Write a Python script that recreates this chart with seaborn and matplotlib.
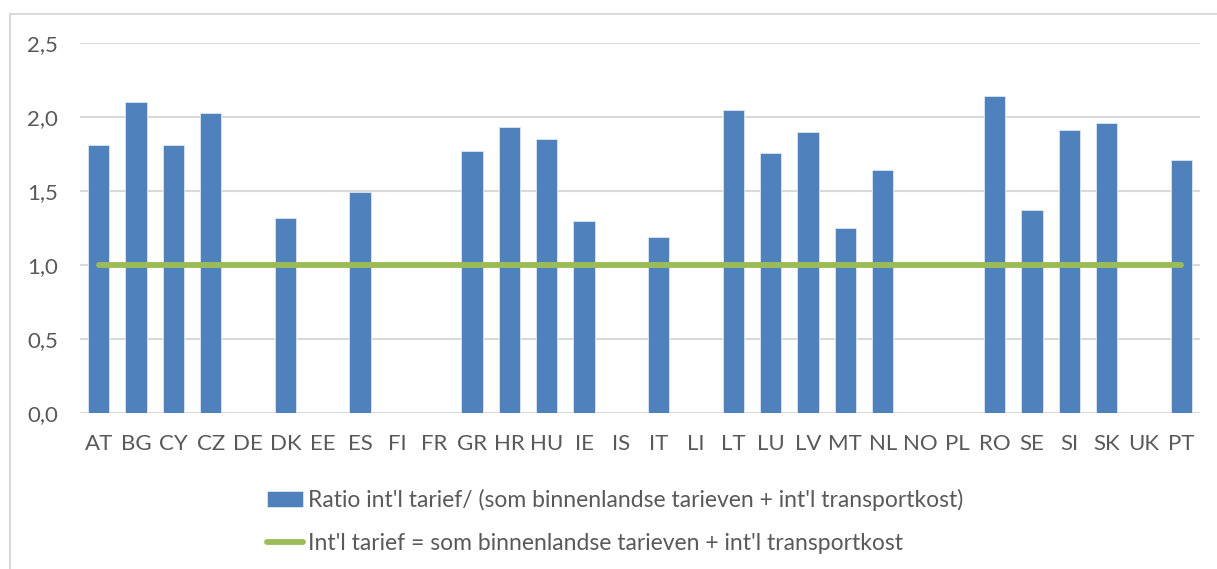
import numpy as np
import pandas as pd
import matplotlib
matplotlib.use("Agg")
import matplotlib.pyplot as plt
from matplotlib.patches import Rectangle
import seaborn as sns

categories = ["AT", "BG", "CY", "CZ", "DE", "DK", "EE", "ES", "FI", "FR",
              "GR", "HR", "HU", "IE", "IS", "IT", "LI", "LT", "LU", "LV",
              "MT", "NL", "NO", "PL", "RO", "SE", "SI", "SK", "UK", "PT"]
ratio = [1.81, 2.10, 1.81, 2.03, np.nan, 1.32, np.nan, 1.49, np.nan, np.nan,
         1.77, 1.93, 1.85, 1.30, np.nan, 1.19, np.nan, 2.05, 1.76, 1.90,
         1.25, 1.64, np.nan, np.nan, 2.14, 1.37, 1.91, 1.96, np.nan, 1.71]
reference = [1.0] * len(categories)
yticks = [0.0, 0.5, 1.0, 1.5, 2.0, 2.5]
ytick_labels = ["0,0", "0,5", "1,0", "1,5", "2,0", "2,5"]

label_bar = "Ratio int'l tarief/ (som binnenlandse tarieven + int'l transportkost)"
label_line = "Int'l tarief = som binnenlandse tarieven + int'l transportkost"

sns.set_theme(style="white")
plt.rcParams["font.family"] = ["Lato", "DejaVu Sans"]

W, H = 1217, 569
fig = plt.figure(figsize=(W / 100, H / 100), dpi=100)
ax = fig.add_axes([80 / W, 1 - 413 / H, (1200 - 80) / W, (413 - 43) / H])

# chart border
fig.patches.append(Rectangle((10 / W, -0.1), 1.2, 1 - 14 / H + 0.1,
                             transform=fig.transFigure, fill=False,
                             edgecolor="#D9D9D9", linewidth=1.5, zorder=0))

df = pd.DataFrame({"cat": categories, "ratio": ratio})
sns.barplot(data=df, x="cat", y="ratio", order=categories, color="#4F81BD",
            saturation=1, width=0.58, edgecolor="#DCE6F2", linewidth=0.6,
            ax=ax, zorder=3, label=label_bar)
sns.lineplot(x=list(range(len(categories))), y=reference, color="#9BBB59",
             linewidth=4.2, ax=ax, zorder=4, label=label_line,
             solid_capstyle="round")

ax.set_xlim(-0.5, len(categories) - 0.5)
ax.set_ylim(0, 2.5)
ax.set_yticks(yticks)
ax.set_yticklabels(ytick_labels)
ax.set_xlabel("")
ax.set_ylabel("")
ax.grid(axis="y", color="#D9D9D9", linewidth=1.5, zorder=0)
ax.set_axisbelow(True)
for s in ax.spines.values():
    s.set_visible(False)
ax.tick_params(axis="both", colors="#595959", labelsize=16, length=0)
ax.tick_params(axis="y", pad=16)
ax.tick_params(axis="x", pad=15)

handles, labels = ax.get_legend_handles_labels()
if ax.get_legend():
    ax.get_legend().remove()
order = [labels.index(label_bar), labels.index(label_line)]
leg = fig.legend([handles[i] for i in order], [labels[i] for i in order],
                 loc="upper left", bbox_to_anchor=(246 / W, 1 - 468 / H),
                 ncol=1, frameon=False, fontsize=16.5, handlelength=1.6,
                 handletextpad=0.2, labelspacing=0.97, labelcolor="#595959")

fig.savefig("out.png", dpi=100, facecolor="white")
